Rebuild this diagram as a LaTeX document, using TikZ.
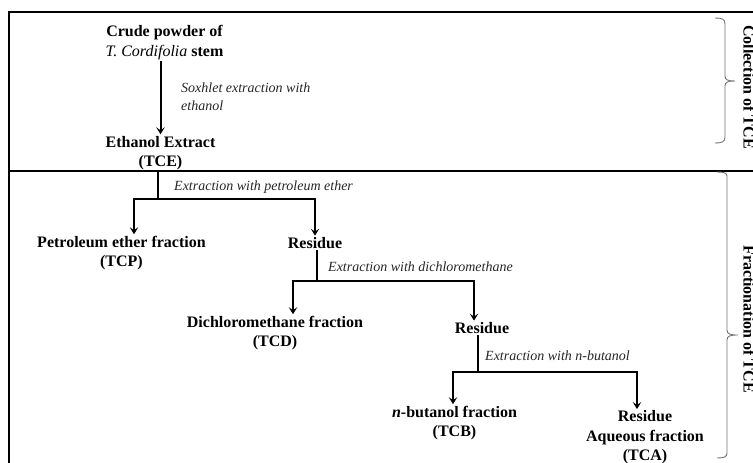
\documentclass[tikz,border=0pt]{standalone}
\usepackage{fontspec}
\setmainfont{Liberation Serif}
\usetikzlibrary{arrows.meta}
\begin{document}
\begin{tikzpicture}[x=1pt,y=-1pt,
  box/.style={font=\fontsize{16}{19.5}\selectfont\bfseries, align=center, inner sep=1.5pt},
  lab/.style={font=\fontsize{14}{18}\selectfont\itshape, text=black!85, align=left, anchor=west, inner sep=0pt},
  ln/.style={line width=2pt},
  arr/.style={line width=2pt, -{Stealth[length=7pt,width=8.5pt,inset=3pt]}},
  frm/.style={line width=2.2pt},
  brc/.style={draw=black!55, line width=0.9pt},
  side/.style={font=\fontsize{16}{19}\selectfont\bfseries, rotate=-90, anchor=base, inner sep=0pt}]
\useasboundingbox (0,0) rectangle (753,463);
% frame
\draw[frm] (8,12) -- (760,12);
\draw[frm] (9,11) -- (9,470);
\draw[frm] (9,171) -- (760,171);
% braces
\draw[brc] (715,18) .. controls (722,18) and (725,19) .. (725,24) -- (725,76)
  .. controls (725,80) and (728,81) .. (735,81)
  .. controls (728,81) and (725,82) .. (725,86) -- (725,137)
  .. controls (725,142) and (722,143) .. (715,143);
\draw[brc] (717,172) .. controls (724,172) and (727,173) .. (727,176) -- (727,330)
  .. controls (727,334) and (730,335) .. (738,335)
  .. controls (730,335) and (727,336) .. (727,340) -- (727,453)
  .. controls (727,457) and (724,458) .. (717,458);
\node[side] (coll) at (743.5,87) {Collection of TCE};
\node[side] (frac) at (743.5,319) {Fractionation of TCE};
% nodes
\node[box] (crude) at (164.5,42.5) {Crude powder of\\\textit{\mdseries T. Cordifolia} stem};
\node[box] (ethanol) at (160.5,153) {Ethanol Extract\\(TCE)};
\node[lab] (soxlab) at (181,97) {Soxhlet extraction with\\ethanol};
\node[box] (tcp) at (121.5,253) {Petroleum ether fraction\\(TCP)};
\node[box] (res1) at (315,243) {Residue};
\node[lab] (lab1) at (174,187) {Extraction with petroleum ether};
\node[box] (tcd) at (275,333) {Dichloromethane fraction\\(TCD)};
\node[box] (res2) at (482,328) {Residue};
\node[lab] (lab2) at (328,267) {Extraction with dichloromethane};
\node[box] (tcb) at (454.5,423) {\textit{n}-butanol fraction\\(TCB)};
\node[box] (tca) at (645,437.5) {Residue\\Aqueous fraction\\(TCA)};
\node[lab] (lab3) at (485,356) {Extraction with n-butanol};
% connectors
\draw[arr] (ethanol.north |- crude.south) -- (ethanol.north);
\coordinate (j1) at (158,199);
\draw[ln] (j1 |- 0,171) -- (j1);
\draw[arr] (j1) -| ([xshift=12.5pt]tcp.north);
\draw[arr] (j1) -| (res1.north);
\coordinate (j2) at (317,281);
\draw[ln] (j2 |- res1.south) -- (j2);
\draw[arr] (j2) -| ([xshift=18pt]tcd.north);
\draw[arr] (j2) -| ([xshift=-8pt]res2.north);
\coordinate (j3) at (478,372);
\draw[ln] (j3 |- res2.south) -- (j3);
\draw[arr] (j3) -| ([xshift=-1.5pt]tcb.north);
\draw[arr] (j3) -| ([xshift=-8pt]tca.north);
\end{tikzpicture}
\end{document}
